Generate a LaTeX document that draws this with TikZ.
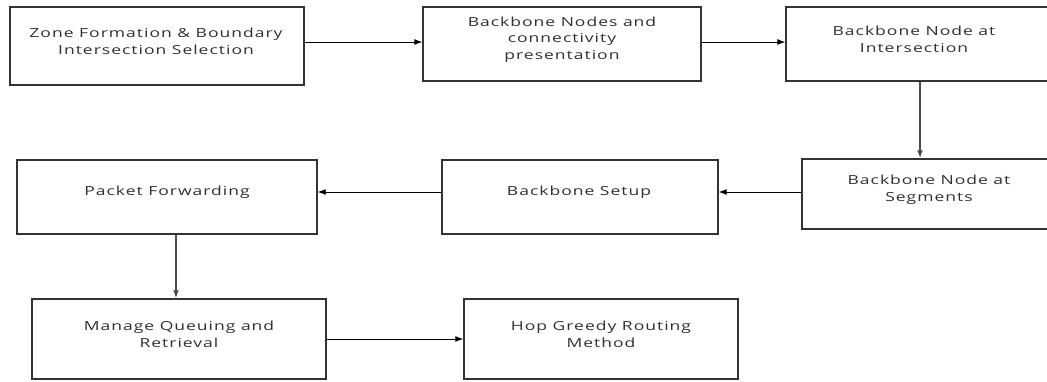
\documentclass[tikz,border=0pt]{standalone}
\usepackage{fontspec}
\setmainfont{Open Sans}[FakeStretch=1.4,LetterSpace=8]
\usetikzlibrary{arrows.meta}
\definecolor{boxline}{HTML}{333333}
\definecolor{txt}{HTML}{303030}
\tikzset{
  stage/.style={draw=boxline, line width=1.4pt, rectangle, inner sep=0pt},
  caption/.style={text=txt, font=\fontsize{12.5}{16.5}\selectfont, align=center, inner sep=0pt},
  flow/.style={draw=black, line width=0.9pt, -{Latex[length=8pt,width=6pt]}},
}
\begin{document}
\begin{tikzpicture}[x=1pt,y=-1pt]
\useasboundingbox (0,0) rectangle (1047,382);
% stage boxes (corners in picture coordinates)
\node[stage, minimum width=294pt, minimum height=78pt] (zone) at (157,46) {};
\node[stage, minimum width=278pt, minimum height=74pt] (conn) at (562,44) {};
\node[stage, minimum width=266pt, minimum height=74pt] (inter) at (919,44) {};
\node[stage, minimum width=250pt, minimum height=70pt] (seg) at (927,194) {};
\node[stage, minimum width=276pt, minimum height=74pt] (setup) at (580,197) {};
\node[stage, minimum width=300pt, minimum height=74pt] (fwd) at (167,197) {};
\node[stage, minimum width=294pt, minimum height=80pt] (queue) at (179,339) {};
\node[stage, minimum width=274pt, minimum height=80pt] (hop) at (601,339) {};
% captions
\node[caption] (tzone) at (156,41.5) {Zone Formation \& Boundary\\Intersection Selection};
\node[caption] (tconn) at (562,39.5) {Backbone Nodes and\\connectivity\\presentation};
\node[caption] (tinter) at (914,39.5) {Backbone Node at\\Intersection};
\node[caption] (tseg) at (929,190) {Backbone Node at\\Segments};
\node[caption] (tsetup) at (579,192) {Backbone Setup};
\node[caption] (tfwd) at (167,192) {Packet Forwarding};
\node[caption] (tqueue) at (179,334.5) {Manage Queuing and\\Retrieval};
\node[caption] (thop) at (601,334.5) {Hop Greedy Routing\\Method};
% connectors
\draw[flow] (zone.east |- 0,42) -- (conn.west |- 0,42);
\draw[flow] (conn.east |- 0,42) -- (inter.west |- 0,42);
\draw[flow, draw=black!70, line width=1.6pt] (920,0 |- inter.south) -- (920,0 |- seg.north);
\draw[flow] (seg.west |- 0,192) -- (setup.east |- 0,192);
\draw[flow] (setup.west |- 0,192) -- (fwd.east |- 0,192);
\draw[flow, draw=black!70, line width=1.6pt] (176,0 |- fwd.south) -- (176,0 |- queue.north);
\draw[flow] (queue.east |- 0,339) -- (hop.west |- 0,339);
\end{tikzpicture}
\end{document}
